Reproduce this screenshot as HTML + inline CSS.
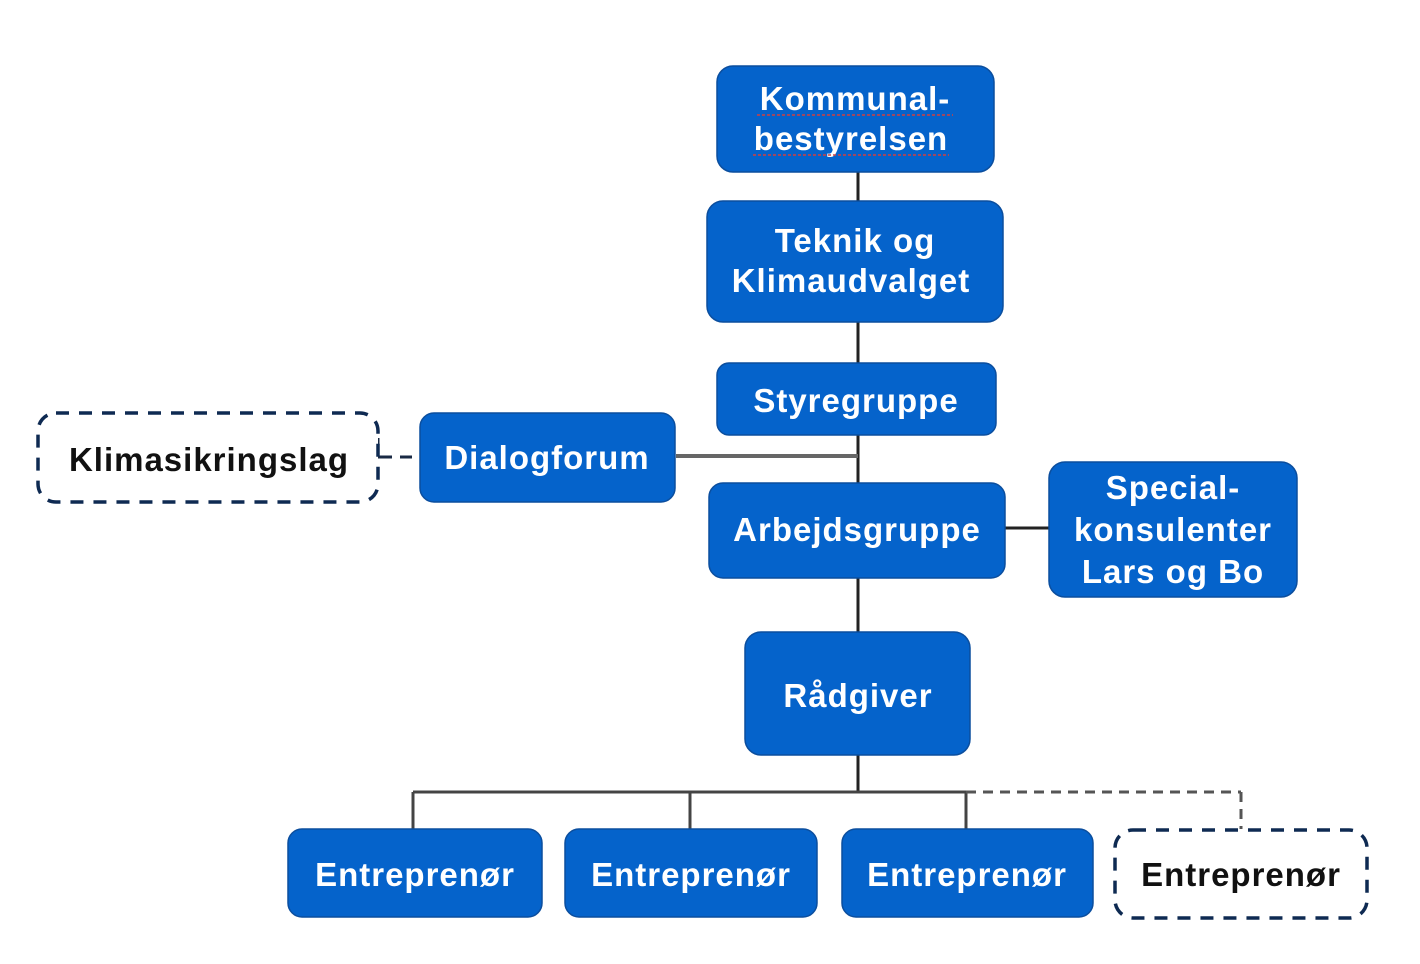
<!DOCTYPE html>
<html>
<head>
<meta charset="utf-8">
<style>
  html, body { margin:0; padding:0; background:#ffffff; }
  svg { display:block; }
  text { font-family: "Liberation Sans", "DejaVu Sans", sans-serif; font-weight:bold; font-size:33px; letter-spacing:1px; }
  .w { fill:#ffffff; }
  .k { fill:#111111; }
</style>
</head>
<body>
<svg width="1420" height="964" viewBox="0 0 1420 964" xmlns="http://www.w3.org/2000/svg">
  <!-- connectors -->
  <g stroke="#222" stroke-width="3" fill="none">
    <line x1="858" y1="172" x2="858" y2="202"/>
    <line x1="858" y1="322" x2="858" y2="364"/>
    <line x1="858" y1="435" x2="858" y2="484"/>
    <line x1="858" y1="578" x2="858" y2="633"/>
    <line x1="858" y1="755" x2="858" y2="792"/>
    <line x1="1005" y1="528" x2="1050" y2="528"/>
  </g>
  <line x1="676" y1="456" x2="858" y2="456" stroke="#666" stroke-width="4"/>
  <!-- bottom tree -->
  <g stroke="#444" stroke-width="3" fill="none">
    <line x1="413" y1="792" x2="966" y2="792"/>
    <line x1="413" y1="792" x2="413" y2="830"/>
    <line x1="690" y1="792" x2="690" y2="830"/>
    <line x1="966" y1="792" x2="966" y2="830"/>
  </g>
  <g stroke="#555" stroke-width="3" fill="none" stroke-dasharray="10 7">
    <line x1="966" y1="792" x2="1241" y2="792"/>
    <line x1="1241" y1="792" x2="1241" y2="829"/>
  </g>
  <!-- Klimasikringslag to Dialogforum dashed -->
  <g stroke="#1a2a44" stroke-width="3" fill="none">
    <line x1="378" y1="438" x2="378" y2="458"/>
    <line x1="378" y1="457" x2="392" y2="457"/>
    <line x1="400" y1="457" x2="412" y2="457"/>
  </g>

  <!-- dashed boxes -->
  <rect x="38" y="413" width="340" height="89" rx="18" ry="18" fill="#fff" stroke="#0e2a52" stroke-width="3.5" stroke-dasharray="13 10"/>
  <rect x="1115" y="830" width="252" height="88" rx="18" ry="18" fill="#fff" stroke="#0e2a52" stroke-width="3.5" stroke-dasharray="13 10"/>

  <!-- blue boxes -->
  <g fill="#0563CB" stroke="#0b4e9e" stroke-width="1.5">
    <rect x="717" y="66" width="277" height="106" rx="16"/>
    <rect x="707" y="201" width="296" height="121" rx="16"/>
    <rect x="717" y="363" width="279" height="72" rx="12"/>
    <rect x="420" y="413" width="255" height="89" rx="14"/>
    <rect x="709" y="483" width="296" height="95" rx="14"/>
    <rect x="1049" y="462" width="248" height="135" rx="16"/>
    <rect x="745" y="632" width="225" height="123" rx="16"/>
    <rect x="288" y="829" width="254" height="88" rx="14"/>
    <rect x="565" y="829" width="252" height="88" rx="14"/>
    <rect x="842" y="829" width="251" height="88" rx="14"/>
  </g>

  <!-- labels -->
  <g text-anchor="middle">
    <text class="w" x="855" y="110">Kommunal-</text>
    <text class="w" x="851" y="150">bestyrelsen</text>
    <line x1="757" y1="115" x2="953" y2="115" stroke="#d04040" stroke-width="1.5" stroke-dasharray="3 2"/>
    <line x1="753" y1="155" x2="949" y2="155" stroke="#d04040" stroke-width="1.5" stroke-dasharray="3 2"/>
    <text class="w" x="855" y="252">Teknik og</text>
    <text class="w" x="851" y="292">Klimaudvalget</text>
    <text class="w" x="856" y="412">Styregruppe</text>
    <text class="w" x="547" y="469">Dialogforum</text>
    <text class="k" x="209" y="471" style="font-weight:bold">Klimasikringslag</text>
    <text class="w" x="857" y="541">Arbejdsgruppe</text>
    <text class="w" x="1173" y="499">Special-</text>
    <text class="w" x="1173" y="541">konsulenter</text>
    <text class="w" x="1173" y="583">Lars og Bo</text>
    <text class="w" x="858" y="707">Rådgiver</text>
    <text class="w" x="415" y="886">Entreprenør</text>
    <text class="w" x="691" y="886">Entreprenør</text>
    <text class="w" x="967" y="886">Entreprenør</text>
    <text class="k" x="1241" y="886">Entreprenør</text>
  </g>
</svg>
</body>
</html>
